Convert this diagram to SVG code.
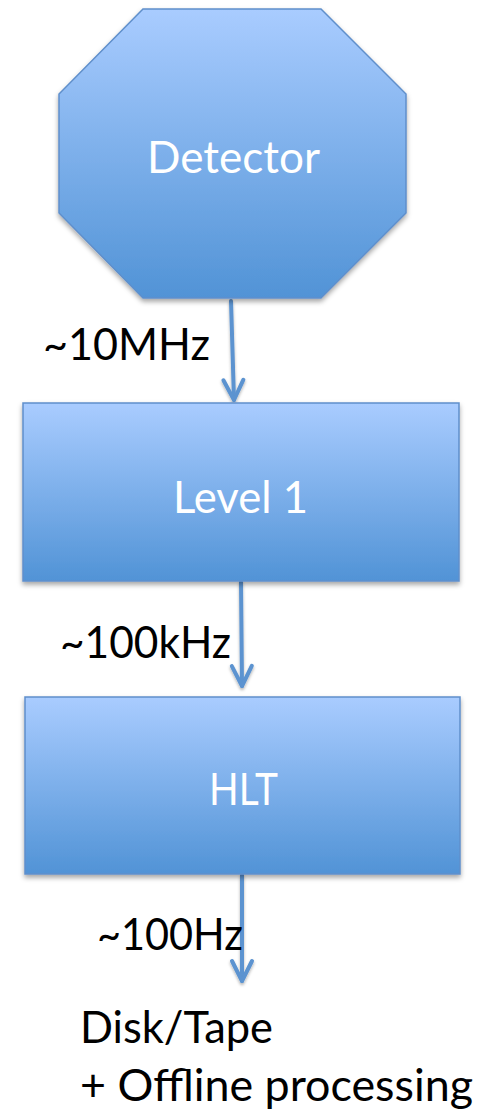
<svg xmlns="http://www.w3.org/2000/svg" width="494" height="1112" viewBox="0 0 494 1112">
  <style>
    .shape { fill: url(#blueFill); stroke: #5F8FCB; stroke-width: 1.5; filter: url(#softShadow); }
    .inner { font-family: Lato, "Open Sans", "Liberation Sans", sans-serif; font-size: 44px; fill: #FFFFFF; }
    .label { font-family: Lato, "Open Sans", "Liberation Sans", sans-serif; font-size: 44px; fill: #000000; }
    .flow { fill: none; stroke: #5B93D0; stroke-width: 4; stroke-linecap: round; marker-end: url(#openHead); }
  </style>
  <defs>
    <linearGradient id="blueFill" x1="0" y1="0" x2="0" y2="1">
      <stop offset="0" stop-color="#A9CCFF"/>
      <stop offset="1" stop-color="#5193D6"/>
    </linearGradient>
    <filter id="softShadow" x="-10%" y="-10%" width="120%" height="125%">
      <feDropShadow dx="0" dy="3" stdDeviation="2.5" flood-color="#000000" flood-opacity="0.35"/>
    </filter>
    <filter id="lineShadow" filterUnits="userSpaceOnUse" x="0" y="0" width="494" height="1112">
      <feDropShadow dx="0" dy="2" stdDeviation="1.5" flood-color="#000000" flood-opacity="0.3"/>
    </filter>
    <marker id="openHead" markerUnits="userSpaceOnUse" viewBox="-24 -13 28 26" refX="0" refY="0" markerWidth="28" markerHeight="26" orient="auto" overflow="visible">
      <path d="M -20 -10 L 0 0 L -20 10" fill="none" stroke="#5B93D0" stroke-width="4" stroke-linecap="round" stroke-linejoin="round"/>
    </marker>
  </defs>

  <!-- connectors between stages -->
  <g id="connectors" filter="url(#lineShadow)">
    <path class="flow" d="M 231 301 L 234 400"/>
    <path class="flow" d="M 241 582 L 242 686"/>
    <path class="flow" d="M 242 875 L 242 981"/>
  </g>

  <!-- detector: octagon -->
  <g id="detector">
    <polygon class="shape" points="143,9 321,9 406,94 406,213 321,298 143,298 59,213 59,94"/>
    <text class="inner" x="147" y="173" textLength="173" lengthAdjust="spacingAndGlyphs">Detector</text>
  </g>

  <!-- first-level trigger -->
  <g id="level1">
    <rect class="shape" x="23" y="403" width="436" height="178"/>
    <text class="inner" x="173" y="513" textLength="135" lengthAdjust="spacingAndGlyphs">Level 1</text>
  </g>

  <!-- high-level trigger -->
  <g id="hlt">
    <rect class="shape" x="25" y="697" width="435" height="177"/>
    <text class="inner" x="209" y="805" textLength="69" lengthAdjust="spacingAndGlyphs">HLT</text>
  </g>

  <!-- rate labels -->
  <g id="rate-10mhz">
    <text class="label" x="43" y="360" textLength="167" lengthAdjust="spacingAndGlyphs">~10MHz</text>
  </g>
  <g id="rate-100khz">
    <text class="label" x="60" y="658" textLength="171" lengthAdjust="spacingAndGlyphs">~100kHz</text>
  </g>
  <g id="rate-100hz">
    <text class="label" x="97" y="950" textLength="146" lengthAdjust="spacingAndGlyphs">~100Hz</text>
  </g>

  <!-- final storage -->
  <g id="storage">
    <text class="label" x="80" y="1043" textLength="193" lengthAdjust="spacingAndGlyphs">Disk/Tape</text>
    <text class="label" x="80" y="1101" textLength="393" lengthAdjust="spacingAndGlyphs">+ Offline processing</text>
  </g>
</svg>
